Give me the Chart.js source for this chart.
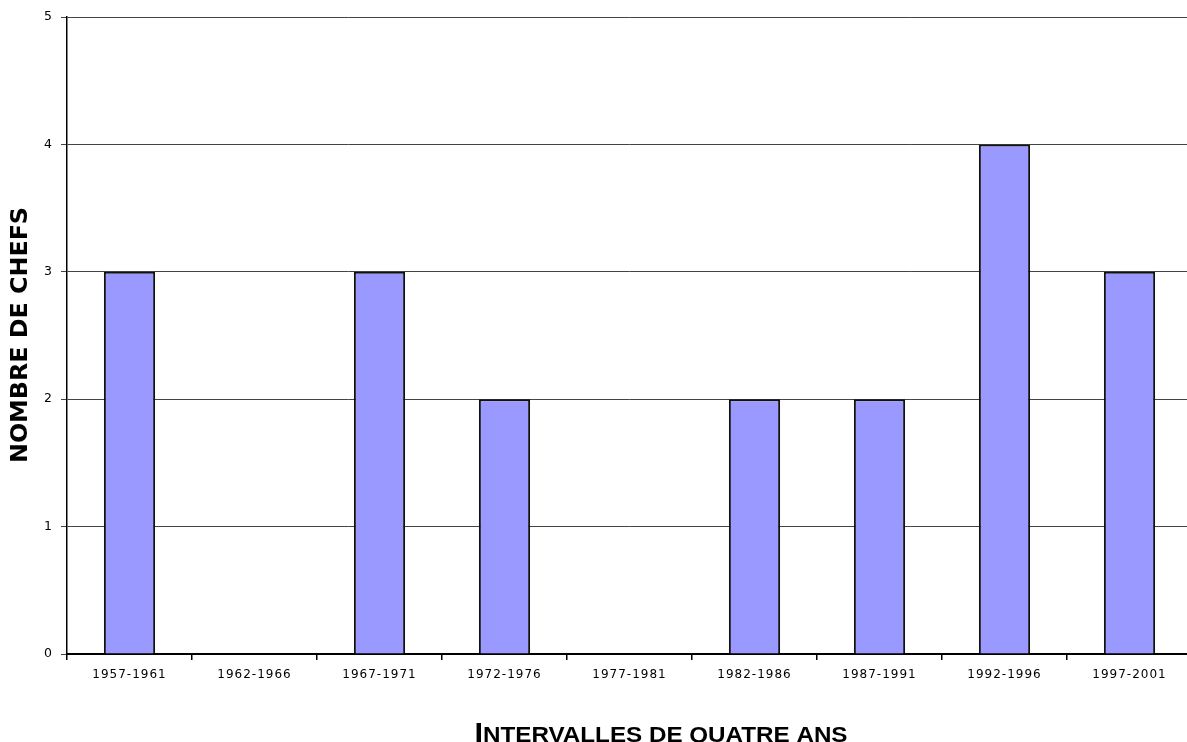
<!DOCTYPE html>
<html>
<head>
<meta charset="utf-8">
<script src="https://cdn.jsdelivr.net/npm/chart.js@4"></script>
<style>
  html, body { margin: 0; padding: 0; background: #fff; overflow: hidden; }
  #wrap { width: 1187px; height: 742px; overflow: hidden; position: relative; }
  #c { position: absolute; left: 0; top: 0; }
</style>
</head>
<body>
<div id="wrap"><canvas id="c" width="1212" height="742"></canvas></div>
<script>
// Intervalles de quatre ans et nombre de chefs
const intervalles = ['1957-1961', '1962-1966', '1967-1971', '1972-1976', '1977-1981',
                     '1982-1986', '1987-1991', '1992-1996', '1997-2001'];
const nombreDeChefs = [3, 0, 3, 2, 0, 2, 2, 4, 3];
const yTicks = [0, 1, 2, 3, 4, 5];

const yTitle = 'NOMBRE DE CHEFS';
const xTitleFirst = 'I';
const xTitleRest = 'NTERVALLES DE QUATRE ANS';

// Slightly spaced lettering for tick labels
const spacingPlugin = {
  id: 'letterSpacing',
  beforeLayout(chart) { chart.ctx.letterSpacing = '1px'; },
  beforeDraw(chart) { chart.ctx.letterSpacing = '1px'; }
};

// Axis titles drawn on the canvas
const titlesPlugin = {
  id: 'axisTitles',
  afterDraw(chart) {
    const { ctx } = chart;

    // vertical title: heavy, narrow lettering
    ctx.save();
    ctx.letterSpacing = '0px';
    ctx.font = 'bold 23px "DejaVu Sans", sans-serif';
    const wy = ctx.measureText(yTitle).width;
    ctx.translate(21, 335);
    ctx.rotate(-Math.PI / 2);
    ctx.scale(256 / wy, 1);
    ctx.fillStyle = '#000';
    ctx.textAlign = 'center';
    ctx.textBaseline = 'middle';
    ctx.fillText(yTitle, 0, 0);
    ctx.restore();

    // horizontal title with small caps look
    ctx.save();
    ctx.letterSpacing = '0px';
    ctx.fillStyle = '#000';
    ctx.textBaseline = 'alphabetic';
    const big = 'bold 28px "Liberation Sans", Arial, sans-serif';
    const small = 'bold 22px "Liberation Sans", Arial, sans-serif';
    ctx.font = big;
    const w1 = ctx.measureText(xTitleFirst).width;
    ctx.font = small;
    const w2 = ctx.measureText(xTitleRest).width;
    const total = 373;
    const s = total / (w1 + w2);
    ctx.translate(661 - total / 2, 742);
    ctx.scale(s, 1);
    ctx.font = big;
    ctx.fillText(xTitleFirst, 0, 0);
    ctx.font = small;
    ctx.fillText(xTitleRest, w1, 0);
    ctx.restore();
  }
};

new Chart(document.getElementById('c'), {
  type: 'bar',
  data: {
    labels: intervalles,
    datasets: [{
      data: nombreDeChefs,
      backgroundColor: '#9999FF',
      borderColor: '#111',
      borderWidth: 2,
      barPercentage: 0.41,
      categoryPercentage: 1.0
    }]
  },
  options: {
    responsive: false,
    animation: false,
    devicePixelRatio: 1,
    layout: { padding: { top: 17, right: 20, left: 0, bottom: 0 } },
    plugins: { legend: { display: false }, tooltip: { enabled: false } },
    scales: {
      x: {
        offset: true,
        grid: {
          display: true,
          offset: true,
          drawOnChartArea: false,
          drawTicks: true,
          tickLength: 6,
          color: '#000',
          lineWidth: 1.5
        },
        border: { display: true, color: '#000', width: 2 },
        ticks: {
          color: '#000',
          padding: 8,
          maxRotation: 0,
          font: { family: '"DejaVu Sans", Verdana, sans-serif', size: 12 }
        },
        afterFit(scale) { scale.height = 88; }
      },
      y: {
        min: 0,
        max: 5,
        afterBuildTicks(scale) { scale.ticks = yTicks.map(v => ({ value: v })); },
        grid: {
          color: '#444',
          lineWidth: 1,
          drawTicks: true,
          tickLength: 6
        },
        border: { display: true, color: '#000', width: 1.5 },
        ticks: {
          color: '#000',
          padding: 8,
          font: { family: '"DejaVu Sans", Verdana, sans-serif', size: 12.5 }
        },
        afterFit(scale) { scale.width = 67; }
      }
    }
  },
  plugins: [spacingPlugin, titlesPlugin]
});
</script>
</body>
</html>
